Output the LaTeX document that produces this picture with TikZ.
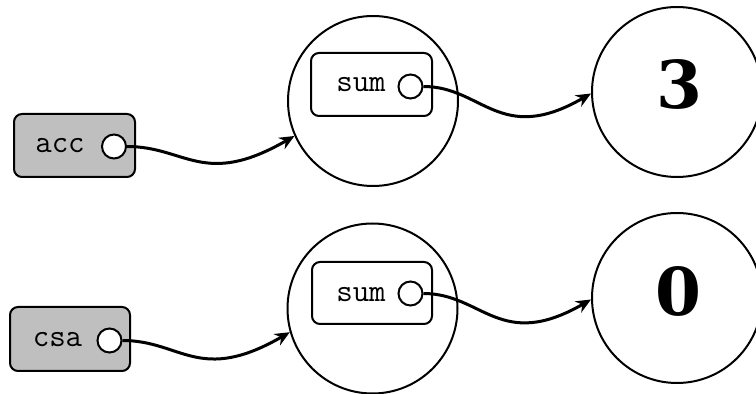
\documentclass[tikz,border=0pt]{standalone}
\usepackage{fontspec}
\usepackage{tikz}
\usetikzlibrary{arrows.meta}
\newfontfamily\numfont{DejaVu Serif}

\begin{document}
\begin{tikzpicture}[x=1pt,y=1pt,
  var/.style={draw,line width=2pt,rounded corners=8pt,minimum width=121pt,minimum height=63pt},
  port/.style={circle,draw,fill=white,line width=2pt,minimum size=24pt,inner sep=0pt},
  lbl/.style={anchor=base,inner sep=0pt,font=\fontsize{32}{38}\selectfont\ttfamily},
  cell/.style={circle,draw,line width=2pt,minimum size=170pt,inner sep=0pt},
  val/.style={inner sep=0pt,font=\fontsize{66}{70}\selectfont\numfont\bfseries},
  link/.style={line width=3pt,-{Stealth[length=15pt,width=13pt,inset=5pt]},
    out=0,in=210,out looseness=0.9,in looseness=1.6}]
\useasboundingbox (0,0) rectangle (756,394);
% top row
\node[var,fill=gray!50] (accbox) at (74.5,248.5) {};
\node[lbl] (acctxt) at (60,241) {acc};
\node[port] (accp) at (114,247.5) {};
\node[cell] (m1) at (373,293) {};
\node[var] (sum1box) at (371.5,309.5) {};
\node[lbl] (sum1txt) at (361,302) {sum};
\node[port] (sum1p) at (410.5,307.5) {};
\node[cell] (v1) at (677,302) {};
\node[val] (v1txt) at (679,310) {3};
\draw[link] (accp.east) to (m1.204);
\draw[link] (sum1p.east) to (v1.181);
% bottom row
\node[var,fill=gray!50,minimum width=120pt,minimum height=64pt] (csabox) at (70,55) {};
\node[lbl] (csatxt) at (57.5,47) {csa};
\node[port] (csap) at (109.5,53.5) {};
\node[cell] (m2) at (372.5,85.5) {};
\node[var,minimum width=120pt,minimum height=62pt] (sum2box) at (372,101) {};
\node[lbl] (sum2txt) at (361,92) {sum};
\node[port] (sum2p) at (410.5,100.5) {};
\node[cell] (v2) at (677,96) {};
\node[val] (v2txt) at (678,102.5) {0};
\draw[link] (csap.east) to (m2.196);
\draw[link] (sum2p.east) to (v2.181);
\end{tikzpicture}
\end{document}
